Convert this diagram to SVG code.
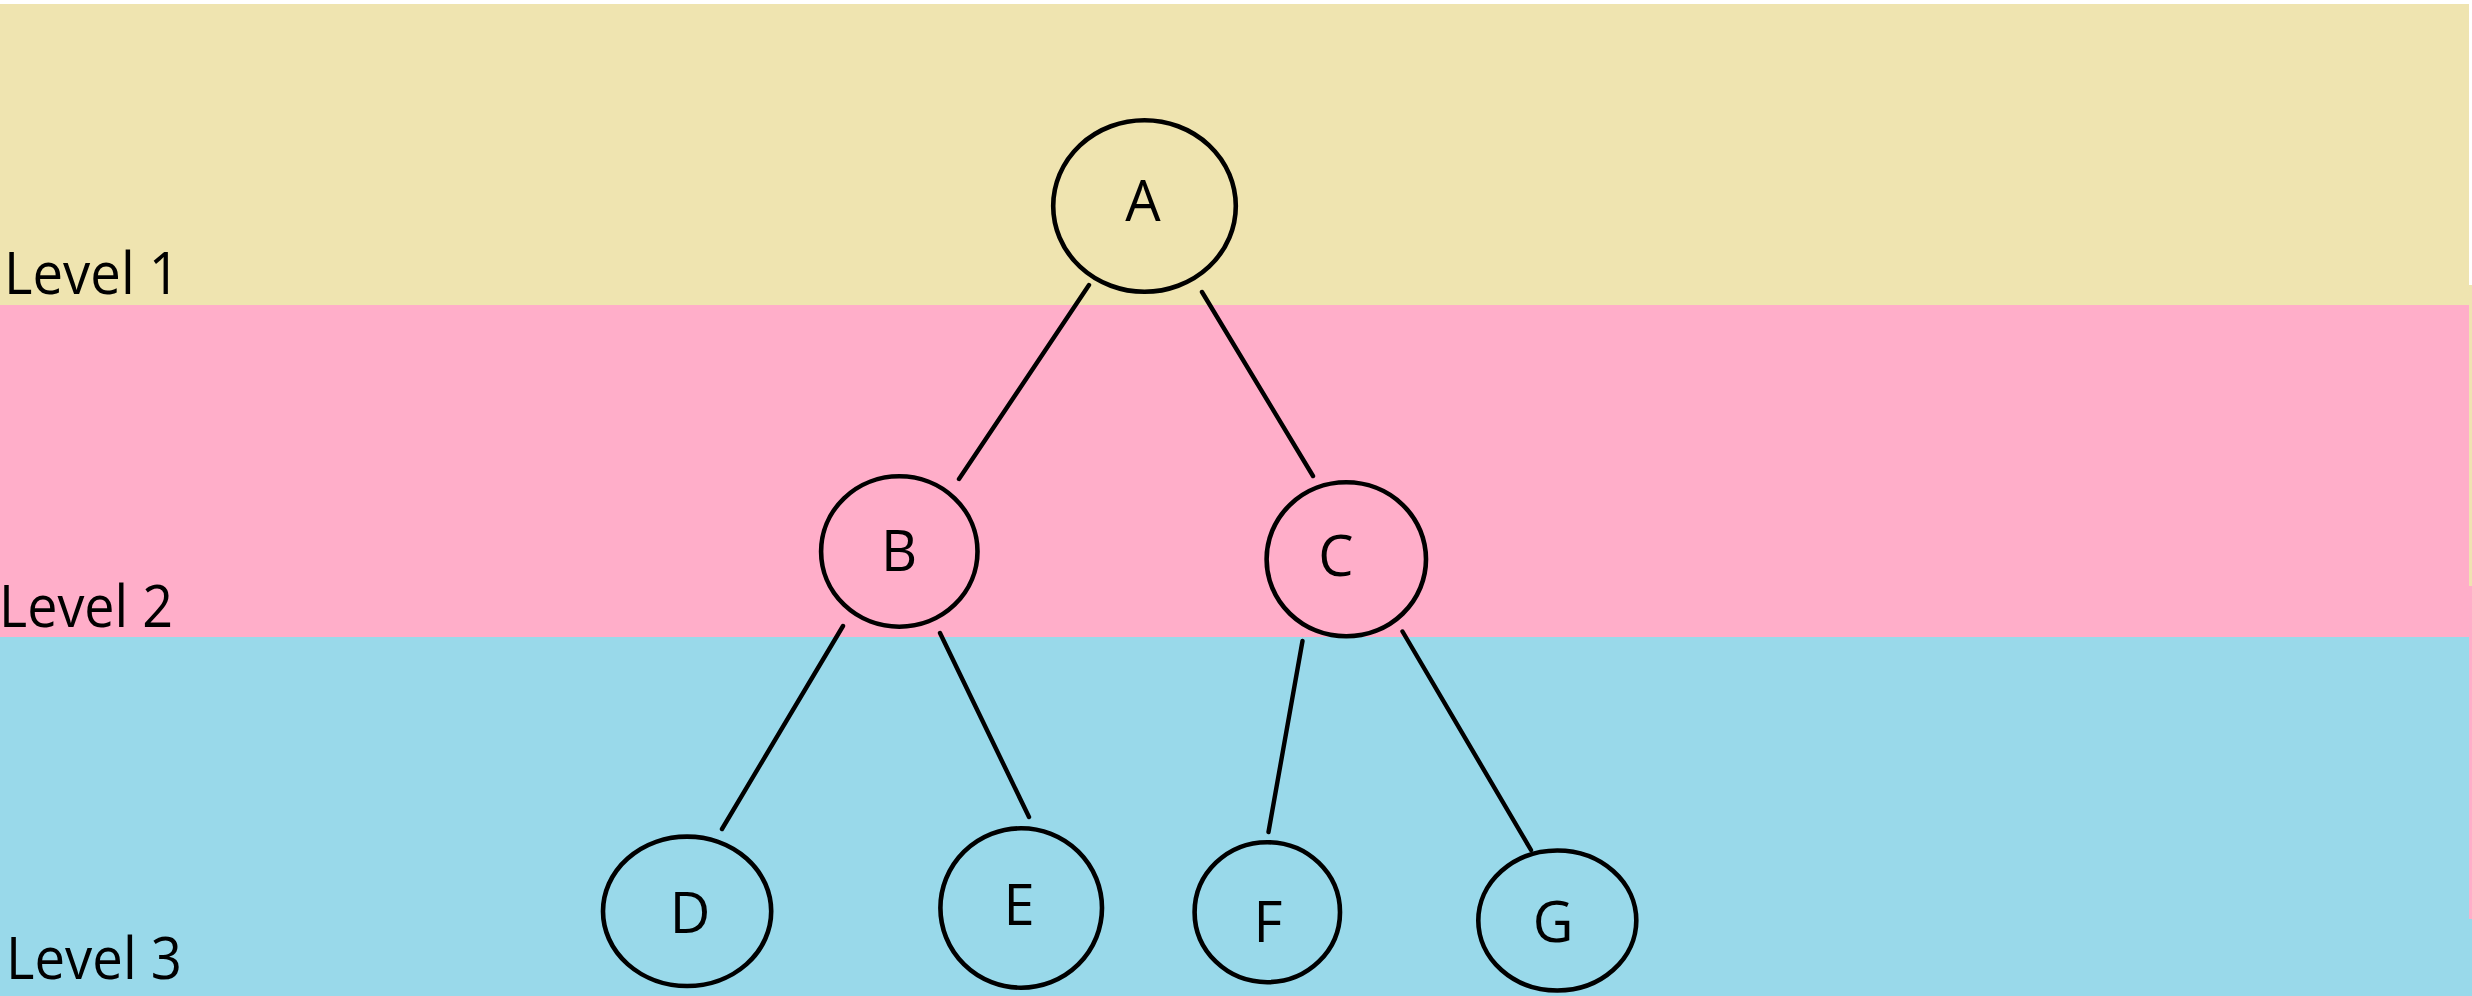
<svg xmlns="http://www.w3.org/2000/svg" width="2472" height="996" viewBox="0 0 2472 996">
  <style>
    .band-1 { fill: #EFE4B0; }
    .band-2 { fill: #FFAEC9; }
    .band-3 { fill: #99D9EA; }
    .level { font-family: "Open Sans", "Noto Sans", "Liberation Sans", sans-serif; font-size: 58px; fill: #000; }
    .node ellipse { fill: none; stroke: #000; stroke-width: 4.6; }
    .node text { font-family: "Open Sans", "Noto Sans", "Liberation Sans", sans-serif; font-size: 56px; fill: #000; text-anchor: middle; }
    .edge { stroke: #000; stroke-width: 4.4; stroke-linecap: round; fill: none; }
  </style>

  <!-- page background -->
  <rect x="0" y="0" width="2472" height="996" fill="#FFFFFF"/>

  <!-- level bands -->
  <g id="bands">
    <rect class="band-1" x="0" y="4" width="2469" height="301"/>
    <rect class="band-2" x="0" y="305" width="2469" height="332"/>
    <rect class="band-3" x="0" y="637" width="2469" height="359"/>
    <!-- narrow offset strip on the right edge -->
    <rect class="band-1" x="2469" y="285" width="3" height="301"/>
    <rect class="band-2" x="2469" y="586" width="3" height="333"/>
    <rect class="band-3" x="2469" y="919" width="3" height="77"/>
  </g>

  <!-- level labels -->
  <g id="labels">
    <text class="level" x="4" y="294" textLength="176" lengthAdjust="spacingAndGlyphs">Level 1</text>
    <text class="level" x="-1" y="627" textLength="174" lengthAdjust="spacingAndGlyphs">Level 2</text>
    <text class="level" x="6" y="979" textLength="176" lengthAdjust="spacingAndGlyphs">Level 3</text>
  </g>

  <!-- tree edges -->
  <g id="connectors">
    <line class="edge" x1="1089" y1="285" x2="959" y2="479"/>
    <line class="edge" x1="1202" y1="292" x2="1313" y2="476"/>
    <line class="edge" x1="843" y1="626" x2="722" y2="829"/>
    <line class="edge" x1="940" y1="633" x2="1029" y2="817"/>
    <line class="edge" x1="1302.5" y1="641" x2="1268.5" y2="832"/>
    <line class="edge" x1="1402.5" y1="631.5" x2="1531" y2="850"/>
  </g>

  <!-- tree nodes -->
  <g id="node-A" class="node">
    <ellipse cx="1144.5" cy="206" rx="91.3" ry="85.8"/>
    <text x="1143" y="221">A</text>
  </g>
  <g id="node-B" class="node">
    <ellipse cx="899.3" cy="551.5" rx="78.2" ry="75.2"/>
    <text x="899" y="571">B</text>
  </g>
  <g id="node-C" class="node">
    <ellipse cx="1346.3" cy="559.3" rx="79.7" ry="77"/>
    <text x="1336" y="576">C</text>
  </g>
  <g id="node-D" class="node">
    <ellipse cx="687.1" cy="911.3" rx="84.1" ry="74.7"/>
    <text x="690" y="932.5">D</text>
  </g>
  <g id="node-E" class="node">
    <ellipse cx="1021.2" cy="908" rx="80.8" ry="79.7"/>
    <text x="1019" y="925">E</text>
  </g>
  <g id="node-F" class="node">
    <ellipse cx="1267.3" cy="912.2" rx="72.7" ry="70"/>
    <text x="1268" y="941.5">F</text>
  </g>
  <g id="node-G" class="node">
    <ellipse cx="1557.3" cy="920.5" rx="79" ry="70"/>
    <text x="1553" y="942">G</text>
  </g>
</svg>
